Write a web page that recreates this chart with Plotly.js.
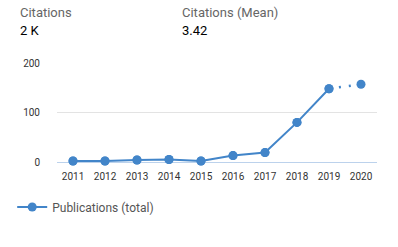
<!DOCTYPE html>
<html><head><meta charset="utf-8">
<script src="https://cdn.plot.ly/plotly-3.0.1.min.js"></script>
<style>html,body{margin:0;padding:0;background:#fff}#c{width:398px;height:247px}</style>
</head><body><div id="c"></div>
<script>
var years = [2011, 2012, 2013, 2014, 2015, 2016, 2017, 2018, 2019, 2020];
var publications = [2, 2, 4, 5, 2, 13, 19, 80, 148, 157];
var tickVals = [0, 100, 200];
var seriesName = 'Publications (total)';
var headerLabels = ['Citations', 'Citations (Mean)'];
var headerValues = ['2 K', '3.42'];

var col = '#4285c9';
var n = years.length;
var traces = [
  {x: years.slice(n - 2), y: publications.slice(n - 2), type: 'scatter', mode: 'lines',
   showlegend: false, line: {color: col, width: 2.5, dash: '2px,8px'}, cliponaxis: false},
  {x: years, y: publications, type: 'scatter', mode: 'markers',
   showlegend: false, marker: {color: col, size: 9}, cliponaxis: false},
  {x: years.slice(0, n - 1), y: publications.slice(0, n - 1), type: 'scatter', mode: 'lines+markers',
   name: seriesName, line: {color: col, width: 2}, marker: {color: col, size: 9}, cliponaxis: false}
];
var font = 'Roboto, Arial, sans-serif';
var layout = {
  width: 398, height: 247,
  margin: {l: 52, r: 21, t: 63, b: 85},
  paper_bgcolor: '#fff', plot_bgcolor: '#fff',
  font: {family: font, size: 10, color: '#444'},
  showlegend: true,
  legend: {orientation: 'h', x: -0.14, xanchor: 'left', y: -0.455, yanchor: 'middle',
    font: {family: font, size: 12, color: '#555'}},
  xaxis: {range: [2010.5, 2020.5], tickvals: years, ticktext: years.map(String), showgrid: false,
    zeroline: false, showline: false, ticks: '', ticklabelstandoff: 7, tickfont: {size: 10, color: '#333'}, fixedrange: true},
  yaxis: {range: [0, 200], tickvals: tickVals, showgrid: true, gridcolor: '#e3e3e3', gridwidth: 1,
    zeroline: true, zerolinecolor: '#bcd2ec', zerolinewidth: 1, showline: false, ticks: '',
    ticklabelstandoff: 16, tickfont: {size: 10, color: '#333'}, fixedrange: true},
  annotations: [
    {xref: 'paper', yref: 'paper', x: 0, y: 0, text: headerLabels[0], showarrow: false},
    {xref: 'paper', yref: 'paper', x: 0, y: 0, text: headerLabels[1], showarrow: false},
    {xref: 'paper', yref: 'paper', x: 0, y: 0, text: headerValues[0], showarrow: false},
    {xref: 'paper', yref: 'paper', x: 0, y: 0, text: headerValues[1], showarrow: false}
  ]
};
function px(xp) { return (xp - 52) / 325; }
function py(yp) { return (162 - yp) / 99; }
var pos = [[12, 12, '#666', 13, 400], [177, 12, '#666', 13, 400], [12, 30, '#000', 13, 400], [177, 30, '#000', 13, 400]];
layout.annotations.forEach(function (a, i) {
  a.x = px(pos[i][0]); a.y = py(pos[i][1]); a.xanchor = 'left'; a.yanchor = 'middle';
  a.font = {family: font, size: pos[i][3], color: pos[i][2], weight: pos[i][4]};
});
Plotly.newPlot('c', traces, layout, {displayModeBar: false, staticPlot: true});
</script></body></html>
